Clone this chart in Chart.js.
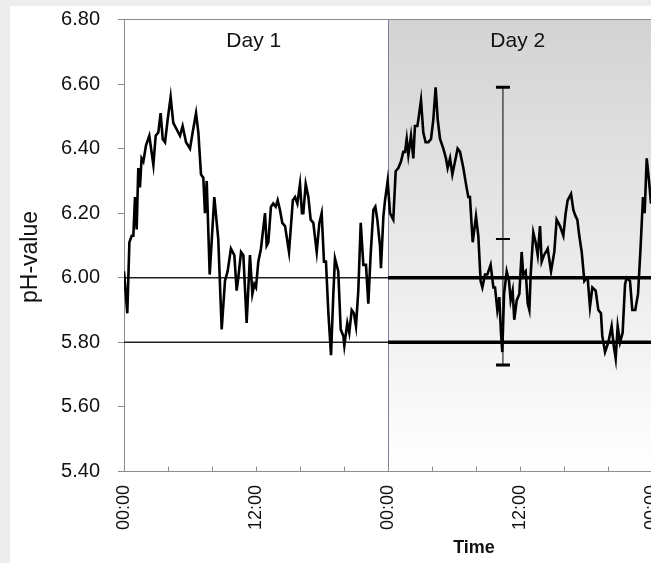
<!DOCTYPE html>
<html>
<head>
<meta charset="utf-8">
<script src="https://cdn.jsdelivr.net/npm/chart.js@4.4.1/dist/chart.umd.min.js"></script>
<style>
    html, body { margin: 0; padding: 0; width: 651px; height: 563px; overflow: hidden; background: #ededed; }
    #panel { position: absolute; left: 10px; top: 6px; right: 0; bottom: 0; background: #fff; }
    #wrap { position: absolute; left: 0; top: 0; width: 664px; height: 563px; }
</style>
</head>
<body>
<div id="panel"></div>
<div id="wrap"><canvas id="phChart" width="664" height="563"></canvas></div>
<script>
// time in hours from the start of day 1
const hours = [
    0, 0.30, 0.49, 0.70, 0.85, 1.00, 1.15, 1.30, 1.45, 1.60, 1.76, 2.00, 2.30, 2.67, 2.88, 3.12, 3.33, 3.52, 3.73, 3.97,
    4.24, 4.48, 4.79, 5.09, 5.33, 5.64, 6.00, 6.24, 6.55, 6.76, 7.00, 7.21, 7.36, 7.52, 7.79, 8.21, 8.57, 8.88, 9.18, 9.42,
    9.72, 10.03, 10.24, 10.39, 10.64, 10.85, 11.15, 11.45, 11.67, 11.85, 12.00, 12.21, 12.45, 12.82, 12.97, 13.12, 13.36, 13.57, 13.79, 13.97,
    14.18, 14.39, 14.64, 15.00, 15.35, 15.55, 15.76, 16.00, 16.18, 16.30, 16.52, 16.76, 16.97, 17.21, 17.52, 17.76, 17.97, 18.18, 18.36, 18.58,
    18.82, 19.03, 19.18, 19.48, 19.70, 19.94, 20.03, 20.30, 20.48, 20.70, 20.90, 21.09, 21.30, 21.52, 21.76, 22.00, 22.21, 22.42, 22.67, 22.85,
    23.03, 23.27, 23.36, 23.58, 23.73, 23.97, 24.18, 24.48, 24.70, 24.94, 25.18, 25.39, 25.55, 25.70, 25.85, 26.09, 26.30, 26.45, 26.67, 26.76,
    27.00, 27.21, 27.42, 27.67, 27.91, 28.12, 28.33, 28.52, 28.73, 29.03, 29.27, 29.42, 29.64, 29.85, 30.09, 30.33, 30.55, 30.85, 31.09, 31.30,
    31.45, 31.70, 32.00, 32.21, 32.42, 32.58, 32.82, 33.03, 33.33, 33.58, 33.73, 33.94, 34.12, 34.27, 34.39, 34.55, 34.79, 35.00, 35.15, 35.33,
    35.48, 35.70, 35.94, 36.15, 36.30, 36.52, 36.70, 36.85, 36.97, 37.21, 37.42, 37.61, 37.82, 37.97, 38.18, 38.52, 38.82, 39.12, 39.33, 39.64,
    39.94, 40.15, 40.33, 40.64, 40.85, 41.06, 41.21, 41.39, 41.61, 41.85, 42.06, 42.15, 42.36, 42.58, 42.88, 43.12, 43.36, 43.48, 43.73, 44.03,
    44.33, 44.52, 44.70, 44.88, 45.09, 45.33, 45.55, 45.70, 46.00, 46.21, 46.48, 46.73, 46.94, 47.18, 47.33, 47.52, 47.73, 47.91
];

const phValues = [
    6.02, 5.89, 6.11, 6.13, 6.13, 6.25, 6.15, 6.34, 6.28, 6.37, 6.36, 6.41, 6.44, 6.35, 6.44, 6.45, 6.51, 6.43, 6.42, 6.49,
    6.56, 6.48, 6.46, 6.44, 6.47, 6.42, 6.40, 6.45, 6.51, 6.45, 6.32, 6.31, 6.20, 6.30, 6.01, 6.25, 6.12, 5.84, 5.99, 6.02,
    6.09, 6.07, 5.96, 6.00, 6.08, 6.07, 5.86, 6.07, 5.95, 5.98, 5.97, 6.05, 6.09, 6.20, 6.10, 6.11, 6.22, 6.23, 6.22, 6.24,
    6.21, 6.17, 6.16, 6.08, 6.24, 6.25, 6.23, 6.29, 6.20, 6.20, 6.29, 6.25, 6.18, 6.17, 6.08, 6.17, 6.20, 6.05, 6.05, 5.89,
    5.76, 5.95, 6.06, 6.02, 5.84, 5.82, 5.79, 5.86, 5.83, 5.90, 5.89, 5.85, 5.96, 6.17, 6.04, 6.04, 5.92, 6.07, 6.21, 6.22,
    6.18, 6.10, 6.03, 6.19, 6.24, 6.30, 6.20, 6.18, 6.33, 6.34, 6.36, 6.39, 6.39, 6.43, 6.38, 6.44, 6.37, 6.47, 6.47, 6.49,
    6.55, 6.45, 6.42, 6.42, 6.43, 6.49, 6.59, 6.49, 6.43, 6.40, 6.37, 6.34, 6.37, 6.32, 6.36, 6.40, 6.39, 6.34, 6.29, 6.25,
    6.25, 6.11, 6.19, 6.13, 5.99, 5.97, 6.01, 6.01, 6.04, 5.97, 5.97, 5.90, 5.94, 5.83, 5.77, 5.95, 6.02, 5.99, 5.93, 5.96,
    5.87, 5.93, 5.95, 6.08, 6.01, 6.02, 5.92, 5.90, 6.01, 6.14, 6.11, 6.07, 6.16, 6.05, 6.07, 6.09, 6.02, 6.08, 6.18, 6.16,
    6.13, 6.20, 6.24, 6.26, 6.21, 6.19, 6.18, 6.13, 6.08, 5.99, 6.00, 6.00, 5.91, 5.97, 5.96, 5.90, 5.89, 5.82, 5.77, 5.80,
    5.85, 5.79, 5.75, 5.85, 5.80, 5.83, 5.98, 6.00, 5.99, 5.90, 5.90, 5.95, 6.08, 6.25, 6.20, 6.37, 6.30, 6.23
];

const dayNames = ["Day 1", "Day 2"];
const limitValues = [6.00, 5.80];
const errorHour = 34.45;
const errorValues = [5.73, 6.12, 6.59];
const tickHours = [0, 12, 24, 36, 48];
const tickLabels = ["00:00", "12:00", "00:00", "12:00", "00:00"];

const fontFamily = '"Liberation Sans", Arial, sans-serif';
Chart.defaults.font.family = fontFamily;

const decorPlugin = {
    id: "decor",
    beforeDraw(chart) {
        const { ctx, chartArea: a, scales } = chart;
        const xDay2 = scales.x.getPixelForValue(24);

        ctx.save();
        const grad = ctx.createLinearGradient(0, a.top, 0, a.bottom);
        grad.addColorStop(0, "#d3d3d3");
        grad.addColorStop(1, "#ffffff");
        ctx.fillStyle = grad;
        ctx.fillRect(xDay2, a.top, a.right - xDay2, a.bottom - a.top);

        ctx.strokeStyle = "#7d80a8";
        ctx.lineWidth = 1;
        ctx.beginPath();
        ctx.moveTo(Math.round(xDay2) + 0.5, a.top);
        ctx.lineTo(Math.round(xDay2) + 0.5, a.bottom);
        ctx.stroke();

        ctx.strokeStyle = "#8c8c8c";
        ctx.beginPath();
        ctx.moveTo(a.left, a.top);
        ctx.lineTo(a.right, a.top);
        ctx.stroke();

        ctx.fillStyle = "#111";
        ctx.font = "21px " + fontFamily;
        ctx.textAlign = "center";
        ctx.textBaseline = "alphabetic";
        dayNames.forEach((name, i) => {
            ctx.fillText(name, scales.x.getPixelForValue(i * 24 + 11.8), a.top + 27.5);
        });
        ctx.restore();
    },
    afterDraw(chart) {
        const { ctx, chartArea: a } = chart;
        ctx.save();
        ctx.fillStyle = "#111";
        ctx.textAlign = "center";
        ctx.textBaseline = "alphabetic";

        ctx.font = "bold 18px " + fontFamily;
        ctx.fillText("Time", a.left + 350, 553);

        ctx.translate(37, 257);
        ctx.rotate(-Math.PI / 2);
        ctx.font = "23px " + fontFamily;
        ctx.fillText("pH-value", 0, 0);
        ctx.restore();
    }
};

const datasets = [
    {
        label: "pH",
        data: hours.map((h, i) => ({ x: h, y: phValues[i] })),
        borderColor: "#000",
        borderWidth: 2.6,
        pointRadius: 0,
        tension: 0
    }
];

limitValues.forEach(v => {
    datasets.push({
        label: "limit day 1",
        data: [{ x: 0, y: v }, { x: 24, y: v }],
        borderColor: "#222",
        borderWidth: 1.5,
        pointRadius: 0
    });
    datasets.push({
        label: "limit day 2",
        data: [{ x: 24, y: v }, { x: 48, y: v }],
        borderColor: "#000",
        borderWidth: 3.5,
        pointRadius: 0
    });
});

datasets.push({
    label: "range",
    data: errorValues.map(v => ({ x: errorHour, y: v })),
    borderColor: "#000",
    borderWidth: 1,
    pointStyle: "line",
    pointRadius: 7,
    pointBorderColor: "#000",
    pointBorderWidth: [3, 2, 3]
});

new Chart(document.getElementById("phChart"), {
    type: "line",
    data: { datasets },
    options: {
        responsive: false,
        animation: false,
        layout: { padding: { left: 0, top: 19.5, right: 12, bottom: 0 } },
        plugins: {
            legend: { display: false },
            tooltip: { enabled: false }
        },
        scales: {
            x: {
                type: "linear",
                min: 0,
                max: 48,
                afterFit: s => {
                    s.height = 91.5;
                    s.paddingLeft = 0;
                    s.paddingRight = 0;
                },
                grid: { drawOnChartArea: false, drawTicks: true, tickLength: -5, color: "#8c8c8c" },
                border: { color: "#8c8c8c", width: 1 },
                ticks: {
                    stepSize: 4,
                    autoSkip: false,
                    minRotation: 90,
                    maxRotation: 90,
                    padding: 18.5,
                    color: "#111",
                    font: { size: 18 },
                    callback: v => {
                        const i = tickHours.indexOf(v);
                        return i >= 0 ? tickLabels[i] : "";
                    }
                }
            },
            y: {
                min: 5.4,
                max: 6.8,
                afterFit: s => {
                    s.width = 124;
                    s.paddingTop = 0;
                    s.paddingBottom = 0;
                },
                grid: { drawOnChartArea: false, tickLength: 6, color: "#8c8c8c" },
                border: { color: "#8c8c8c", width: 1 },
                ticks: {
                    stepSize: 0.2,
                    padding: 18,
                    color: "#111",
                    font: { size: 20 },
                    callback: v => Number(v).toFixed(2)
                }
            }
        }
    },
    plugins: [decorPlugin]
});
</script>
</body>
</html>
